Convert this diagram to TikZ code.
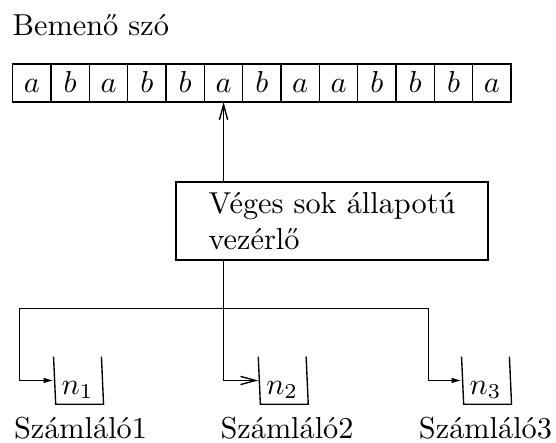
\documentclass[tikz,border=0pt]{standalone}
\usepackage{fontspec}
\usetikzlibrary{positioning,arrows.meta}
\begin{document}
\begin{tikzpicture}[x=0.33pt, y=-0.33pt, line width=0.45pt,
  cell/.style={draw, minimum width=12.65pt, minimum height=12.54pt, inner sep=0pt, outer sep=0pt, text height=6.4pt, text depth=0pt},
  ctrlbox/.style={draw, minimum width=103pt, minimum height=25.7pt, align=left},
  counter/.style={minimum width=15.8pt, minimum height=15.7pt, inner sep=0pt, outer sep=0pt, text height=9.2pt, text depth=0pt},
  toopen/.style={-{Straight Barb[length=5pt, width=2.7pt]}},
  tofill/.style={-{Latex[length=3.3pt, width=1.9pt]}}]
  \useasboundingbox (0,0) rectangle (556,443);
  \node[anchor=base west, inner sep=0pt] (title) at (12,36) {Bemenő szó};
  \node[cell] (c1) at (31.9,83) {$a$};
  \node[cell, right=0pt of c1] (c2) {$b$};
  \node[cell, right=0pt of c2] (c3) {$a$};
  \node[cell, right=0pt of c3] (c4) {$b$};
  \node[cell, right=0pt of c4] (c5) {$b$};
  \node[cell, right=0pt of c5] (c6) {$a$};
  \node[cell, right=0pt of c6] (c7) {$b$};
  \node[cell, right=0pt of c7] (c8) {$a$};
  \node[cell, right=0pt of c8] (c9) {$a$};
  \node[cell, right=0pt of c9] (c10) {$b$};
  \node[cell, right=0pt of c10] (c11) {$b$};
  \node[cell, right=0pt of c11] (c12) {$b$};
  \node[cell, right=0pt of c12] (c13) {$a$};
  \node[ctrlbox] (ctrl) at (332,221) {Véges sok állapotú\\vezérlő};
  \node[counter] (cnt1) at (77.5,380.5) {$n_1$};
  \node[counter] (cnt2) at (282.2,380.5) {$n_2$};
  \node[counter] (cnt3) at (485.5,380.5) {$n_3$};
  \draw (cnt1.north west) -- ([xshift=0.7pt]cnt1.south west) -- ([xshift=0.7pt]cnt1.south east) -- (cnt1.north east);
  \draw (cnt2.north west) -- ([xshift=0.7pt]cnt2.south west) -- ([xshift=0.7pt]cnt2.south east) -- (cnt2.north east);
  \draw (cnt3.north west) -- ([xshift=0.7pt]cnt3.south west) -- ([xshift=0.7pt]cnt3.south east) -- (cnt3.north east);
  \node[below=4pt of cnt1, inner sep=0pt, xshift=1pt] (lab1) {Számláló1};
  \node[below=4pt of cnt2, inner sep=0pt, xshift=1.6pt] (lab2) {Számláló2};
  \node[below=4pt of cnt3, inner sep=0pt] (lab3) {Számláló3};
  \coordinate (busl) at (19.3,308.3);
  \coordinate (busr) at (428.3,308.3);
  \draw[toopen] (c6.south |- ctrl.north) -- (c6.south);
  \draw[toopen] (c6.south |- ctrl.south) |- (cnt2.west);
  \draw[tofill] (busr) -- (busl) |- (cnt1.west);
  \draw[tofill] (busr) |- (cnt3.west);
\end{tikzpicture}
\end{document}
